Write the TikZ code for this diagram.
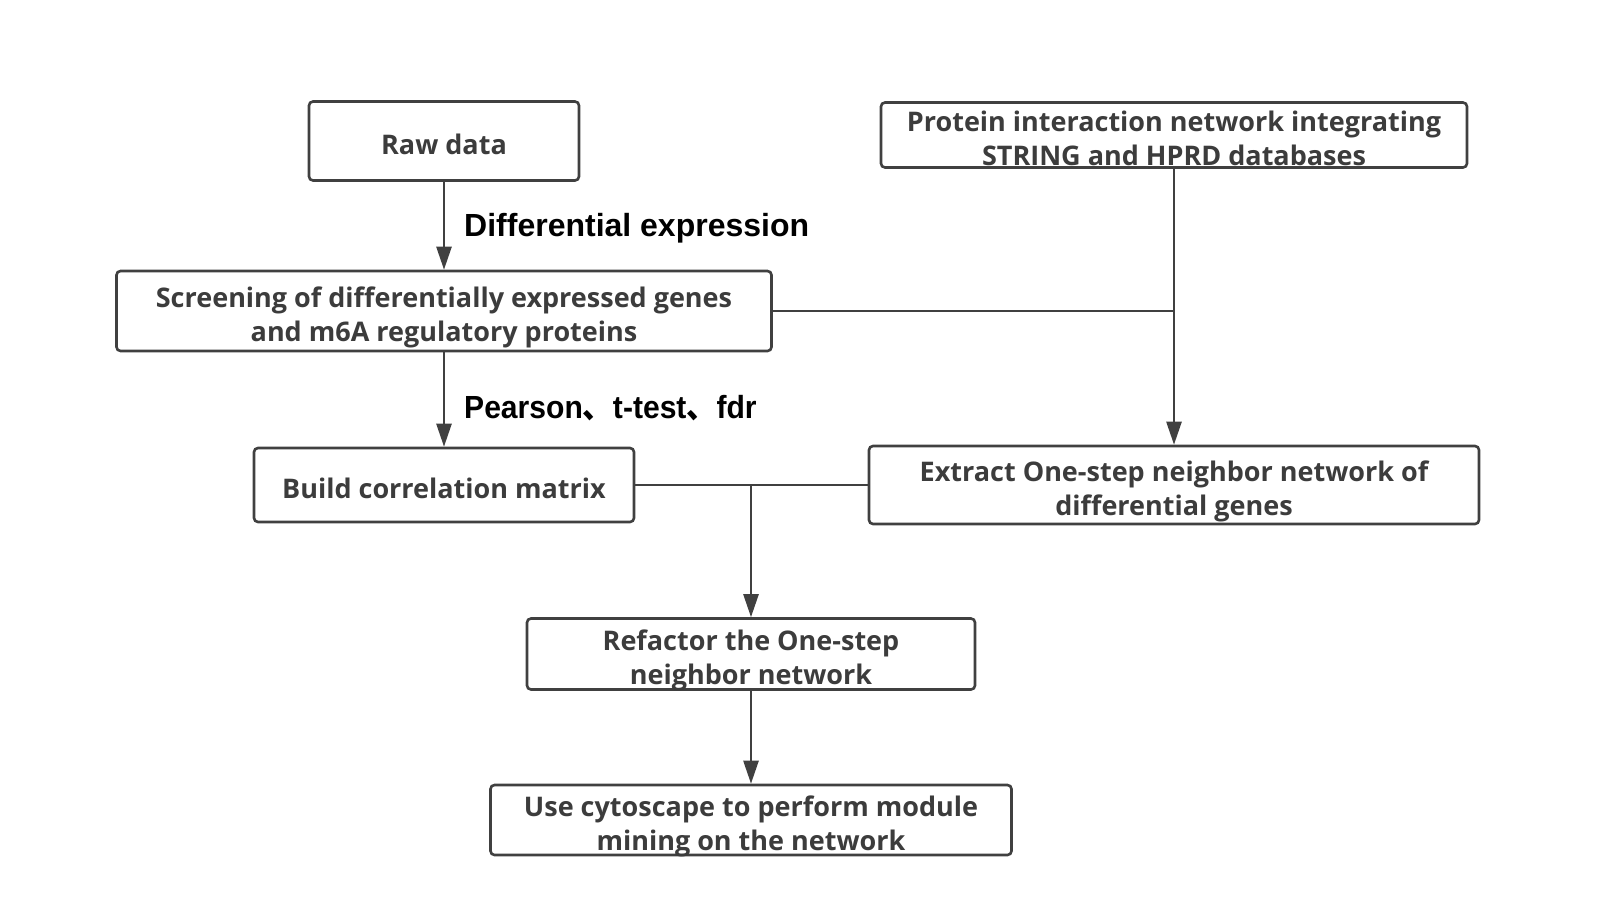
\documentclass[tikz,border=0pt]{standalone}
\usepackage{fontspec}
\setmainfont{Open Sans}
\newfontfamily\labelfont{Liberation Sans}
\newfontfamily\cjkfont{Noto Sans CJK SC}
\usetikzlibrary{arrows.meta}
\definecolor{linec}{HTML}{404040}
\definecolor{textc}{HTML}{3C3C3C}
\newcommand\bxtext[1]{\raisebox{-13pt}[0pt][0pt]{\begin{tabular}{@{}c@{}}#1\end{tabular}}}
\begin{document}
\begin{tikzpicture}[x=1pt,y=-1pt,
  box/.style={draw=linec, line width=2.6pt, rounded corners=4pt, fill=white,
    font=\bfseries\fontsize{27}{33.5}\selectfont, text=textc, inner sep=0pt},
  conn/.style={draw=linec, line width=2.5pt},
  arr/.style={conn, -{Triangle[length=23pt,width=15pt]}},
  lbl/.style={font=\labelfont\bfseries\fontsize{32}{36}\selectfont, text=black, anchor=west, inner sep=0pt}]
\useasboundingbox (0,0) rectangle (1600,900);
\node[box, minimum width=270pt, minimum height=79pt] (raw) at (444,141) {\bxtext{Raw data}};
\node[box, minimum width=655pt, minimum height=80pt] (scr) at (444,311) {\bxtext{Screening of differentially expressed genes\\and m6A regulatory proteins}};
\node[box, minimum width=586pt, minimum height=65pt] (prot) at (1174,135) {\bxtext{Protein interaction network integrating\\STRING and HPRD databases}};
\node[box, minimum width=380pt, minimum height=74pt] (build) at (444,485) {\bxtext{Build correlation matrix}};
\node[box, minimum width=610pt, minimum height=78pt] (ext) at (1174,485) {\bxtext{Extract One-step neighbor network of\\differential genes}};
\node[box, minimum width=448pt, minimum height=71pt] (ref) at (751,654) {\bxtext{Refactor the One-step\\neighbor network}};
\node[box, minimum width=521pt, minimum height=70pt] (cyt) at (751,820) {\bxtext{Use cytoscape to perform module\\mining on the network}};
\node[lbl] (l1) at (464,228) {Differential expression};
\node[lbl] (l2) at (464,408) {\scalebox{0.94}[1]{Pearson{\cjkfont 、}t-test{\cjkfont 、}fdr}};
\coordinate (j1) at (prot.south |- scr.east);
\coordinate (j2) at (ref.north |- build.east);
\draw[arr] (raw) -- (scr);
\draw[arr] (scr) -- (build);
\draw[conn] (scr.east) -- (j1);
\draw[arr] (prot) -- (ext);
\draw[conn] (build.east) -- (ext.west);
\draw[arr] (j2) -- (ref.north);
\draw[arr] (ref) -- (cyt);
\end{tikzpicture}
\end{document}
